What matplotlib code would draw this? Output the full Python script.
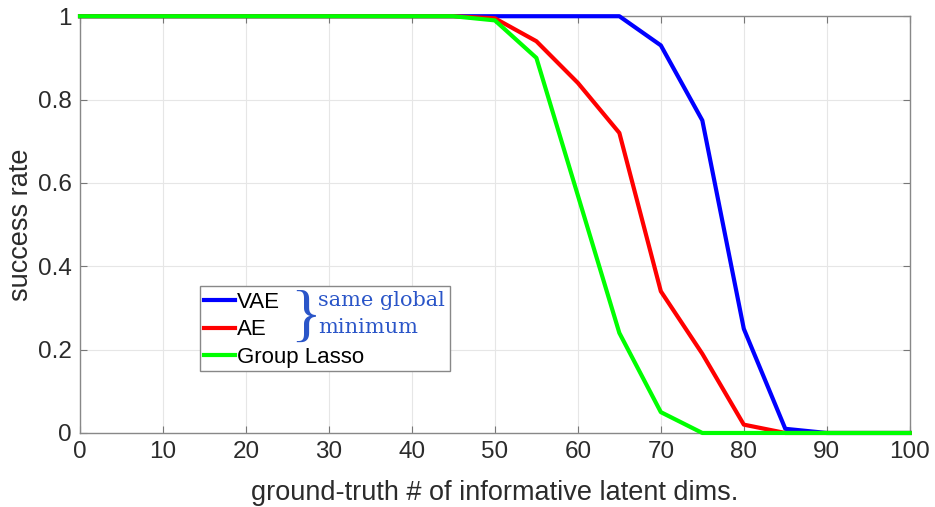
import numpy as np
import matplotlib.pyplot as plt
from matplotlib.patches import Rectangle

plt.rcParams['font.family'] = ['Liberation Sans', 'DejaVu Sans']

# ground-truth number of informative latent dims
dims = [0, 5, 10, 15, 20, 25, 30, 35, 40, 45, 50, 55, 60, 65, 70, 75, 80, 85, 90, 95, 100]

vae = [1, 1, 1, 1, 1, 1, 1, 1, 1, 1, 1, 1, 1, 1, 0.93, 0.75, 0.25, 0.01, 0, 0, 0]
ae = [1, 1, 1, 1, 1, 1, 1, 1, 1, 1, 0.995, 0.94, 0.84, 0.72, 0.34, 0.19, 0.02, 0, 0, 0, 0]
lasso = [1, 1, 1, 1, 1, 1, 1, 1, 1, 1, 0.99, 0.90, 0.57, 0.24, 0.05, 0, 0, 0, 0, 0, 0]

fig = plt.figure(figsize=(9.35, 5.07), dpi=100)
ax = fig.add_axes([0.0856, 0.146, 0.8874, 0.822])

ax.plot(dims, vae, color='#0000ff', lw=3, label='VAE', clip_on=False, zorder=4)
ax.plot(dims, ae, color='#ff0000', lw=3, label='AE', clip_on=False, zorder=4)
ax.plot(dims, lasso, color='#00ff00', lw=3, label='Group Lasso', clip_on=False, zorder=4)

ax.set_xlim(0, 100)
ax.set_ylim(0, 1)
ax.set_xticks(np.arange(0, 101, 10))
ax.set_yticks([0, 0.2, 0.4, 0.6, 0.8, 1])
ax.set_yticklabels(['0', '0.2', '0.4', '0.6', '0.8', '1'])
ax.grid(True, color='#e6e6e6', lw=0.8)
ax.set_axisbelow(True)
ax.tick_params(direction='in', top=True, right=True, length=5, color='#777777',
               labelsize=17.5, labelcolor='#2b2b2b', pad=6)
for s in ax.spines.values():
    s.set_color('#888888')
    s.set_linewidth(1)
    s.set_zorder(2)

ax.set_xlabel('ground-truth # of informative latent dims.', fontsize=19.5, color='#2b2b2b', labelpad=12)
ax.set_ylabel('success rate', fontsize=19.5, color='#2b2b2b', labelpad=3)

# legend box (wider than the legend, holds the note too)
ax.add_patch(Rectangle((0.145, 0.149), 0.301, 0.203, transform=ax.transAxes,
                       facecolor='white', edgecolor='#888888', lw=1, zorder=5))
leg = ax.legend(loc='upper left', bbox_to_anchor=(0.145, 0.347), frameon=False,
                fontsize=16, handlelength=1.4, handletextpad=0.1, labelspacing=0.3,
                borderaxespad=0, borderpad=0.15)
leg.set_zorder(6)

ax.text(0.253, 0.272, '}', transform=ax.transAxes, fontsize=46, color='#2a55c8',
        family='Liberation Serif', va='center', ha='left', zorder=7)
ax.text(0.287, 0.318, 'same global', transform=ax.transAxes, fontsize=15, color='#2a55c8',
        family='DejaVu Serif', va='center', ha='left', zorder=7)
ax.text(0.287, 0.252, 'minimum', transform=ax.transAxes, fontsize=15, color='#2a55c8',
        family='DejaVu Serif', va='center', ha='left', zorder=7)

fig.savefig('out.png', dpi=100)
